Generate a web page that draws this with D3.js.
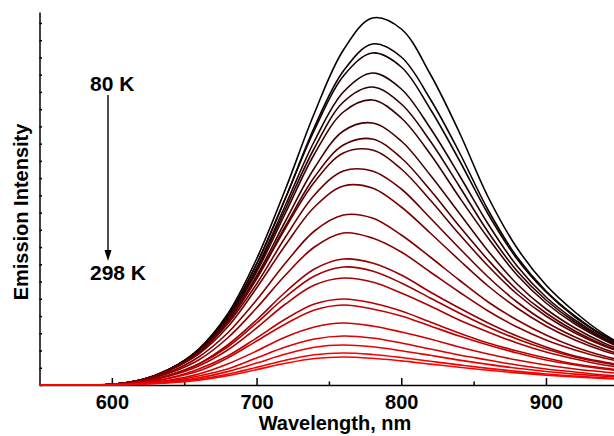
<!DOCTYPE html>
<html>
<head>
<meta charset="utf-8">
<script src="https://cdn.jsdelivr.net/npm/d3@7"></script>
<style>
  html, body { margin: 0; padding: 0; background: #fff; }
  svg { display: block; }
  text { font-family: "Liberation Sans", Arial, sans-serif; font-weight: bold; fill: #000; }
</style>
</head>
<body>
<div id="chart"></div>
<script>
"use strict";

const wavelengths = [550, 600, 620, 640, 660, 680, 700, 720, 740, 760, 780, 800, 820, 840, 860, 880, 900, 920, 940, 960];

// emission spectra (arbitrary units), 80 K first, 298 K last
const spectra = [
    [0, 0.8, 5, 16, 36, 71, 126, 196, 272, 335, 367, 356, 311, 253, 188, 137, 100, 73, 51, 35],
    [0, 0.8, 5, 16, 35, 69, 121, 187, 258, 314, 341, 328, 286, 233, 175, 128, 94, 69, 49, 34],
    [0, 0.8, 5, 16, 35, 69, 121, 187, 255, 309, 332, 318, 276, 225, 171, 126, 93, 68, 49, 34],
    [0, 0.8, 5, 15, 34, 67, 117, 180, 244, 293, 312, 296, 257, 210, 161, 119, 88, 65, 47, 33],
    [0, 0.8, 5, 15, 34, 67, 115, 176, 237, 283, 298, 281, 244, 199, 153, 114, 85, 63, 46, 33],
    [0, 0.8, 5, 15, 34, 66, 113, 172, 231, 273, 285, 267, 231, 188, 147, 110, 82, 61, 45, 32],
    [0, 0.8, 5, 15, 33, 64, 109, 164, 217, 254, 262, 244, 210, 172, 134, 101, 76, 57, 42, 31],
    [0, 0.8, 5, 15, 33, 63, 107, 159, 208, 240, 246, 227, 195, 159, 125, 95, 72, 54, 40, 30],
    [0, 0.8, 5, 15, 33, 63, 106, 157, 203, 232, 235, 216, 185, 151, 119, 91, 69, 52, 39, 29],
    [0, 0.8, 5, 15, 32, 61, 101, 148, 190, 214, 214, 196, 167, 137, 108, 83, 63, 48, 36, 27],
    [0, 0.8, 5, 15, 31, 58, 97, 140, 178, 199, 197, 178, 152, 125, 99, 77, 59, 45, 34, 26],
    [0, 0.7, 4, 13, 28, 52, 85, 122, 154, 170, 167, 150, 128, 105, 83, 65, 50, 38, 29, 22],
    [0, 0.6, 4, 12, 25, 47, 77, 110, 138, 152, 147, 133, 113, 93, 74, 58, 45, 35, 27, 21],
    [0, 0.5, 3.4, 10, 21, 40, 65, 93, 116, 126, 122, 110, 93, 77, 62, 49, 38, 29, 23, 18],
    [0, 0.5, 3.2, 10, 21, 38, 62, 88, 109, 118, 114, 102, 87, 72, 58, 46, 36, 28, 22, 17],
    [0, 0.5, 3, 9, 19, 35, 57, 81, 100, 107, 103, 92, 79, 65, 53, 42, 33, 26, 20, 16],
    [0, 0.4, 2.5, 7, 16, 29, 47, 66, 81, 86, 82, 74, 63, 52, 42, 34, 27, 21, 17, 13],
    [0, 0.4, 2.3, 7, 14, 27, 44, 61, 75, 80, 76, 69, 59, 49, 40, 32, 25, 20, 16, 13],
    [0, 0.3, 1.8, 5, 11, 21, 34, 48, 58, 62, 59, 53, 46, 38, 31, 25, 20, 16, 13, 10],
    [0, 0.3, 1.4, 4, 9, 16, 27, 38, 46, 49, 47, 42, 36, 30, 25, 20, 16, 13, 10, 8],
    [0, 0.2, 1.1, 3.3, 7.1, 13.4, 21.9, 30.9, 37.8, 40, 38.2, 34.3, 29.7, 24.9, 20.6, 16.7, 13.5, 10.9, 8.8, 7.1],
    [0, 0.2, 0.9, 2.6, 5.7, 10.7, 17.6, 24.8, 30.3, 32, 30.5, 27.5, 23.8, 20.1, 16.6, 13.6, 11.0, 9.0, 7.2, 5.9],
    [0, 0.2, 0.8, 2.2, 4.9, 9.4, 15.4, 21.7, 26.5, 28, 26.7, 24.1, 20.9, 17.7, 14.7, 12.1, 9.9, 8.0, 6.5, 5.3]
];

const xTicks = [600, 700, 800, 900];
const xMinorTicks = [650, 750, 850];
const tempLabels = ["80 K", "298 K"];

// layout
const width = 614, height = 436;
const plot = { left: 39.5, right: 614, top: 12, bottom: 385 };
const yStep = 17.24;   // spacing of the unlabelled intensity ticks

const svg = d3.select("#chart")
    .append("svg")
    .attr("width", width)
    .attr("height", height);

const x = d3.scaleLinear()
    .domain([550, 947])
    .range([plot.left, plot.right]);

const y = d3.scaleLinear()
    .domain([0, plot.bottom - plot.top])
    .range([plot.bottom, plot.top]);

// axes
const xAxis = svg.append("g")
    .attr("transform", "translate(0," + plot.bottom + ")")
    .call(d3.axisBottom(x).tickValues(xTicks).tickSizeInner(-7).tickSizeOuter(0).tickPadding(10));
xAxis.selectAll("text")
    .style("font-size", "20px")
    .style("font-family", "'Liberation Sans', Arial, sans-serif")
    .style("font-weight", "bold");

svg.append("g")
    .attr("transform", "translate(0," + plot.bottom + ")")
    .call(d3.axisBottom(x).tickValues(xMinorTicks).tickSize(-3.5).tickFormat(""))
    .call(g => g.select(".domain").remove());

svg.append("g")
    .attr("transform", "translate(" + plot.left + ",0)")
    .call(d3.axisLeft(y).tickValues(d3.range(0, y.domain()[1], yStep)).tickSizeInner(-2.5).tickSizeOuter(0).tickFormat(""));

svg.selectAll(".domain, .tick line")
    .attr("stroke", "#000")
    .attr("stroke-width", 1.5);

// spectra, dark (cold) to red (warm)
const color = d3.interpolateRgb("#000000", "#ff0000");

const line = d3.line()
    .x(d => x(d[0]))
    .y(d => y(d[1]))
    .curve(d3.curveCatmullRom.alpha(0.5));

svg.append("g")
    .selectAll("path")
    .data(spectra)
    .join("path")
    .attr("fill", "none")
    .attr("stroke", (d, i) => color(i / (spectra.length - 1)))
    .attr("stroke-width", 1.6)
    .attr("stroke-linejoin", "round")
    .attr("d", d => line(d.map((v, i) => [wavelengths[i], v])));

// temperature annotation
svg.append("text")
    .attr("x", 90)
    .attr("y", 91)
    .style("font-size", "21px")
    .text(tempLabels[0]);

svg.append("text")
    .attr("x", 90)
    .attr("y", 279.5)
    .style("font-size", "21px")
    .text(tempLabels[1]);

svg.append("line")
    .attr("x1", 108).attr("y1", 95)
    .attr("x2", 108).attr("y2", 252)
    .attr("stroke", "#000")
    .attr("stroke-width", 1.4);

svg.append("path")
    .attr("d", "M104.5,250L111.5,250L108,261Z")
    .attr("fill", "#000");

// axis titles
svg.append("text")
    .attr("x", 335)
    .attr("y", 430)
    .attr("text-anchor", "middle")
    .style("font-size", "20px")
    .text("Wavelength, nm");

svg.append("text")
    .attr("transform", "translate(28,212) rotate(-90)")
    .attr("text-anchor", "middle")
    .style("font-size", "20px")
    .text("Emission Intensity");
</script>
</body>
</html>
